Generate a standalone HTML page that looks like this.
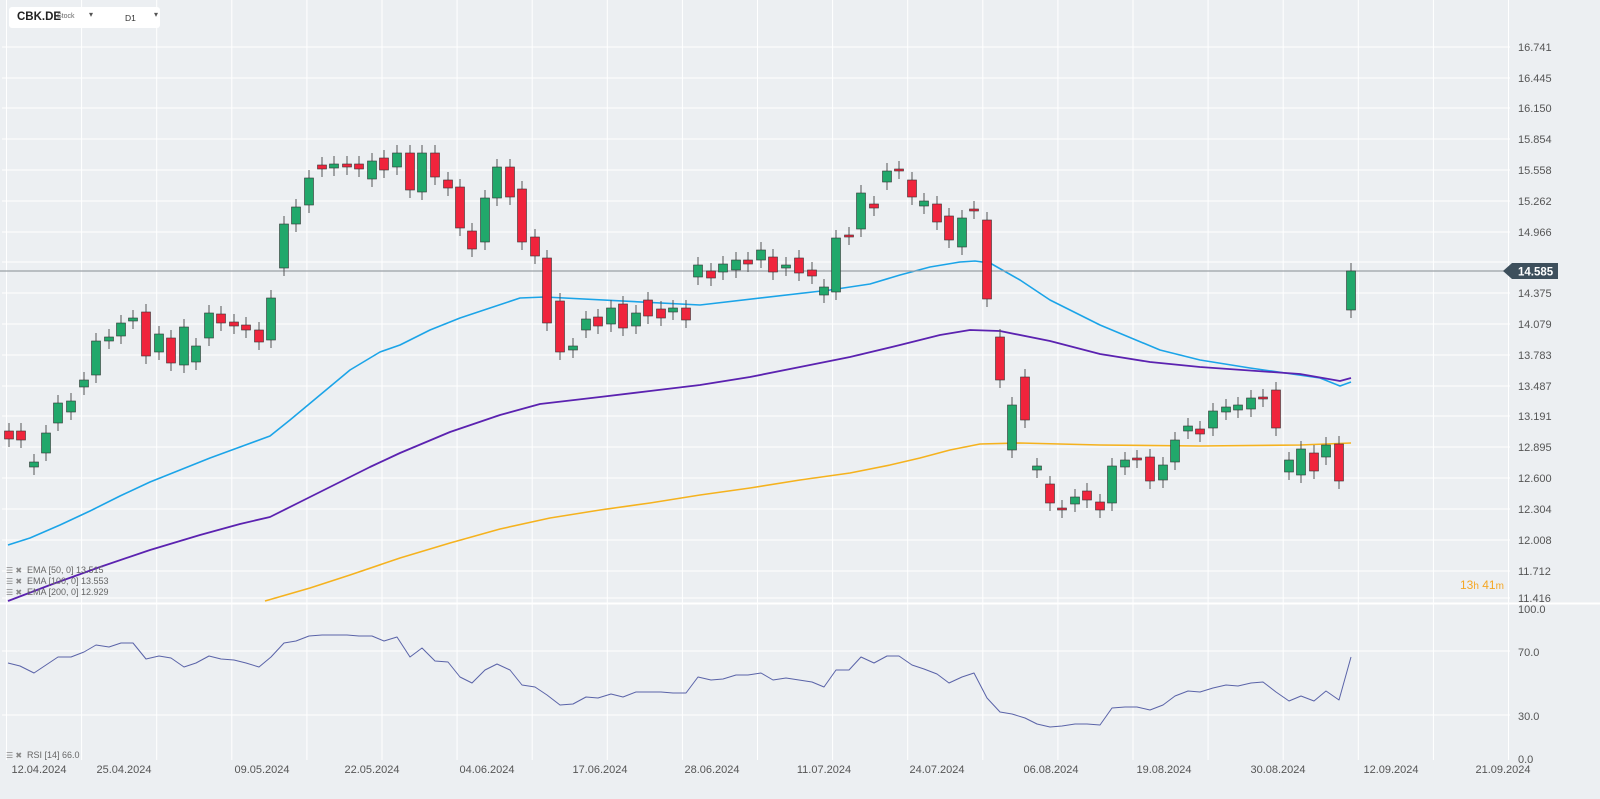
<!DOCTYPE html>
<html><head><meta charset="utf-8"><style>
body{margin:0;background:#eceff2;font-family:"Liberation Sans",sans-serif;}
#c{position:absolute;left:0;top:0;width:1600px;height:799px;overflow:hidden}
.hdr{position:absolute;left:9px;top:7px;width:151px;height:21px;background:#fff;border-radius:3px;font-size:11px;color:#222}
</style></head><body><div id="c">
<svg id="s" width="1600" height="799" xmlns="http://www.w3.org/2000/svg" font-family="Liberation Sans, sans-serif"></svg>
<div class="hdr"><span style="position:absolute;left:8px;top:4px;font-weight:bold;font-size:11.5px">CBK.DE</span><span style="position:absolute;left:48px;top:6px;font-size:7px;color:#666">Stock</span><span style="position:absolute;left:80px;top:3px;font-size:8px;color:#555">▾</span><span style="position:absolute;left:116px;top:6px;font-size:8.5px;color:#333">D1</span><span style="position:absolute;left:145px;top:3px;font-size:8px;color:#555">▾</span></div>
</div>
<script>
const s=document.getElementById('s');let h='';
const py=[47,78,108,139,170,201,232,262,293,324,355,386,416,447,478,509,540,571,598];
const pl=['16.741','16.445','16.150','15.854','15.558','15.262','14.966','14.670','14.375','14.079','13.783','13.487','13.191','12.895','12.600','12.304','12.008','11.712','11.416'];
const dx=[39,124,262,372,487,600,712,824,937,1051,1164,1278,1391,1503];
const dl=['12.04.2024','25.04.2024','09.05.2024','22.05.2024','04.06.2024','17.06.2024','28.06.2024','11.07.2024','24.07.2024','06.08.2024','19.08.2024','30.08.2024','12.09.2024','21.09.2024'];
py.forEach(y=>h+=`<line x1="2" x2="1510" y1="${y}" y2="${y}" stroke="#fff" stroke-width="1"/>`);
[651,715].forEach(y=>h+=`<line x1="2" x2="1510" y1="${y}" y2="${y}" stroke="#fff"/>`);
for(let x=6.5;x<1510;x+=75.1)h+=`<line x1="${x}" x2="${x}" y1="0" y2="760" stroke="#fff"/>`;
h+=`<line x1="0" x2="1600" y1="603.5" y2="603.5" stroke="#fff" stroke-width="2"/>`;
py.forEach((y,i)=>{if(i!=7)h+=`<text x="1518" y="${y+4}" font-size="11" fill="#555">${pl[i]}</text>`});
[['100.0',609],['70.0',652],['30.0',716],['0.0',759]].forEach(a=>h+=`<text x="1518" y="${a[1]+4}" font-size="11" fill="#555">${a[0]}</text>`);
dx.forEach((x,i)=>h+=`<text x="${x}" y="773" font-size="11" fill="#555" text-anchor="middle">${dl[i]}</text>`);
function pline(p,c,w){h+=`<polyline fill="none" stroke="${c}" stroke-width="${w}" stroke-linejoin="round" points="${p.map(a=>a.join(',')).join(' ')}"/>`}
pline([[8,545],[30,538],[60,525],[90,511],[120,496],[150,482],[180,470],[210,458],[240,447],[270,436],[290,420],[320,395],[350,370],[380,352],[400,345],[430,330],[460,318],[490,308],[520,298],[545,297],[700,305],[830,290],[870,284],[900,275],[930,267],[960,262],[975,261],[990,263],[1020,280],[1050,300],[1100,325],[1160,350],[1200,360],[1250,368],[1320,378],[1340,386],[1351,382]],'#1ba4e8',1.6);
pline([[8,601],[50,585],[100,567],[150,550],[200,535],[240,524],[270,517],[300,502],[330,487],[370,467],[400,453],[450,432],[500,415],[540,404],[600,397],[650,391],[700,385],[750,377],[800,367],[850,357],[900,345],[940,335],[970,330],[1000,331],[1050,341],[1100,354],[1150,362],[1200,367],[1300,374],[1340,381],[1351,378]],'#5b22b0',1.8);
pline([[265,601],[310,588],[350,575],[400,558],[450,543],[500,529],[550,518],[600,510],[650,503],[700,495],[750,488],[800,480],[850,473],[890,465],[920,458],[950,450],[980,444],[1020,443],[1100,445],[1200,446],[1300,445],[1351,443]],'#f5b21e',1.6);
h+=`<line x1="0" x2="1510" y1="271" y2="271" stroke="#9aa0a6" stroke-width="1.2"/>`;
const cd=[[9,431,439],[21,431,440],[34,467,462],[46,453,433],[58,423,403],[71,412,401],[84,387,380],[96,375,341],[109,341,337],[121,336,323],[133,321,318],[146,312,356],[159,352,334],[171,338,363],[184,365,327],[196,362,346],[209,338,313],[221,314,323],[234,322,326],[246,325,330],[259,330,342],[271,340,298],[284,268,224],[296,224,207],[309,205,178],[322,165,169],[334,168,164],[347,164,167],[359,164,169],[372,179,161],[384,158,170],[397,167,153],[410,153,190],[422,192,153],[435,153,177],[448,180,188],[460,187,228],[472,231,249],[485,242,198],[497,198,167],[510,167,197],[522,189,242],[535,237,256],[547,258,323],[560,301,352],[573,350,346],[586,330,319],[598,317,326],[611,324,308],[623,304,328],[636,326,313],[648,300,316],[661,309,318],[673,312,308],[686,308,320],[698,277,265],[711,271,278],[723,272,264],[736,270,260],[748,260,264],[761,260,250],[773,257,272],[786,268,265],[799,258,273],[812,270,276],[824,295,287],[836,292,238],[849,235,237],[861,229,193],[874,204,208],[887,182,171],[899,169,171],[912,180,197],[924,206,201],[937,204,222],[949,216,240],[962,247,218],[974,209,211],[987,220,299],[1000,337,380],[1012,450,405],[1025,377,420],[1037,470,466],[1050,484,503],[1062,508,510],[1075,504,497],[1087,491,500],[1100,502,510],[1112,503,466],[1125,467,460],[1137,458,460],[1150,457,481],[1163,480,465],[1175,462,440],[1188,431,426],[1200,429,434],[1213,428,411],[1226,412,407],[1238,410,405],[1251,409,398],[1263,397,399],[1276,390,428],[1289,472,460],[1301,475,449],[1314,453,471],[1326,457,445],[1339,444,481],[1351,310,271]];
cd.forEach(c=>{const[x,o,cl]=c;const g=cl<o;const col=g?'#21a86b':'#f0243c';const t=Math.min(o,cl),b=Math.max(o,cl);
h+=`<line x1="${x}" x2="${x}" y1="${t-8}" y2="${b+8}" stroke="#555" stroke-width="1"/>`;
h+=`<rect x="${x-4.5}" y="${t}" width="9" height="${Math.max(b-t,2)}" fill="${col}" stroke="#333" stroke-width="0.6"/>`;});
h+=`<path d="M1503,271 L1512,263 L1558,263 L1558,279 L1512,279 Z" fill="#3d4f5c"/><text x="1518" y="275.5" font-size="11.5" font-weight="bold" fill="#fff">14.585</text>`;
h+=`<text x="1460" y="589" font-size="12" fill="#f5a623">13<tspan font-size="10">h</tspan> 41<tspan font-size="10">m</tspan></text>`;
['EMA [50, 0] 13.515','EMA [100, 0] 13.553','EMA [200, 0] 12.929'].forEach((t,i)=>h+=`<text x="6" y="${573+i*11}" font-size="8" fill="#888">☰ ✖</text><text x="27" y="${573+i*11}" font-size="9" fill="#666">${t}</text>`);
h+=`<text x="6" y="758" font-size="8" fill="#888">☰ ✖</text><text x="27" y="758" font-size="9" fill="#666">RSI [14] 66.0</text>`;
const r=[[8,663],[20,666],[34,673],[46,665],[58,657],[71,657],[84,652],[96,645],[109,647],[121,643],[133,643],[146,659],[159,656],[171,658],[184,667],[196,663],[209,656],[221,659],[234,660],[246,663],[259,667],[271,657],[284,643],[296,641],[309,636],[322,635],[334,635],[347,635],[359,636],[372,636],[384,641],[397,637],[410,657],[422,648],[435,661],[448,662],[460,677],[472,683],[485,670],[497,664],[510,670],[522,685],[535,687],[547,695],[560,705],[573,704],[586,697],[598,698],[611,694],[623,697],[636,692],[648,692],[661,692],[673,693],[686,693],[698,677],[711,680],[723,679],[736,675],[748,675],[761,673],[773,680],[786,678],[799,680],[812,682],[824,687],[836,670],[849,670],[861,657],[874,663],[887,656],[899,656],[912,665],[924,669],[937,674],[949,683],[962,677],[974,673],[987,698],[1000,712],[1012,714],[1025,718],[1037,724],[1050,727],[1062,726],[1075,724],[1087,724],[1100,725],[1112,708],[1125,707],[1137,707],[1150,710],[1163,705],[1175,696],[1188,691],[1200,692],[1213,688],[1226,685],[1238,686],[1251,683],[1263,682],[1276,692],[1289,701],[1301,696],[1314,701],[1326,691],[1339,700],[1351,657]];
pline(r,'#5a63a8',1);
s.innerHTML=h;
</script></body></html>
